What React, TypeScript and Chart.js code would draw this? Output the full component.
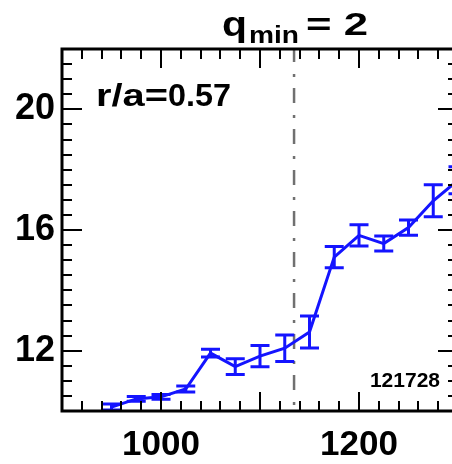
import React, { useEffect, useRef } from "react";
import { Chart, registerables } from "chart.js";

Chart.register(...registerables);

// Beam energy (keV) and measured value with its uncertainty
const energies = [950, 975, 1000, 1025, 1050, 1075, 1100, 1125, 1150, 1175, 1200, 1225, 1250, 1275, 1300];
const values = [10.13, 10.4, 10.47, 10.73, 11.92, 11.47, 11.82, 12.08, 12.62, 15.1, 15.82, 15.55, 16.08, 16.97, 17.65];
const errors = [0.1, 0.08, 0.08, 0.1, 0.13, 0.26, 0.35, 0.44, 0.53, 0.35, 0.35, 0.25, 0.25, 0.53, 0.45];

const xTickLabels = [1000, 1200];
const yTickLabels = [12, 16, 20];
const qminEnergy = 1134.4;

const X_MIN = 900;
const X_MAX = 1300;
const Y_MIN = 10;
const Y_MAX = 22;

const FONT = "'Liberation Sans', Arial, Helvetica, sans-serif";
const BLUE = "#1414ff";

function fitText(ctx: CanvasRenderingContext2D, text: string, x: number, baseline: number, font: string, width: number) {
  ctx.save();
  ctx.font = font;
  ctx.textAlign = "left";
  ctx.textBaseline = "alphabetic";
  const w = ctx.measureText(text).width;
  ctx.translate(x, baseline);
  ctx.scale(width / w, 1);
  ctx.fillStyle = "#000";
  ctx.fillText(text, 0, 0);
  ctx.restore();
}

const qminLine = {
  id: "qminLine",
  beforeDatasetsDraw(chart: any) {
    const { ctx, chartArea, scales } = chart;
    const x = scales.x.getPixelForValue(qminEnergy);
    ctx.save();
    ctx.strokeStyle = "#707070";
    ctx.lineWidth = 2.5;
    ctx.setLineDash([15, 12, 3, 11]);
    ctx.lineDashOffset = 2;
    ctx.beginPath();
    ctx.moveTo(x, chartArea.top);
    ctx.lineTo(x, chartArea.bottom);
    ctx.stroke();
    ctx.restore();
  },
};

const errorBars = {
  id: "errorBars",
  afterDatasetsDraw(chart: any) {
    const { ctx, scales } = chart;
    ctx.save();
    ctx.strokeStyle = BLUE;
    ctx.lineWidth = 3;
    const half = 9.5;
    energies.forEach((e, i) => {
      const x = scales.x.getPixelForValue(e);
      const yt = scales.y.getPixelForValue(values[i] + errors[i]);
      const yb = scales.y.getPixelForValue(values[i] - errors[i]);
      ctx.beginPath();
      ctx.moveTo(x, yt);
      ctx.lineTo(x, yb);
      ctx.moveTo(x - half, yt);
      ctx.lineTo(x + half, yt);
      ctx.moveTo(x - half, yb);
      ctx.lineTo(x + half, yb);
      ctx.stroke();
    });
    ctx.restore();
  },
};

const frame = {
  id: "frame",
  afterDraw(chart: any) {
    const { ctx, chartArea, scales } = chart;
    const { left, right, top, bottom } = chartArea;
    ctx.save();
    ctx.strokeStyle = "#000";
    ctx.lineWidth = 2;
    ctx.beginPath();
    for (let v = X_MIN; v <= X_MAX; v += 20) {
      const x = Math.round(scales.x.getPixelForValue(v));
      const len = v % 100 === 0 ? 19 : 10;
      ctx.moveTo(x, bottom);
      ctx.lineTo(x, bottom - len);
      ctx.moveTo(x, top);
      ctx.lineTo(x, top + len);
    }
    for (let v = Y_MIN; v <= Y_MAX; v += 0.5) {
      const y = Math.round(scales.y.getPixelForValue(v));
      const len = v % 4 === 0 ? 20 : 10;
      ctx.moveTo(left, y);
      ctx.lineTo(left + len, y);
      ctx.moveTo(right, y);
      ctx.lineTo(right - len, y);
    }
    ctx.stroke();
    ctx.lineWidth = 3;
    ctx.strokeRect(left, top, right - left, bottom - top);

    // title with subscript
    fitText(ctx, "q", 222, 36, `bold 35px ${FONT}`, 25);
    fitText(ctx, "min", 249, 43, `bold 23px ${FONT}`, 50);
    fitText(ctx, "= 2", 306, 35, `bold 32px ${FONT}`, 62);

    // radius annotation
    fitText(ctx, "r/a=", 96, 106, `bold 32px ${FONT}`, 72);
    fitText(ctx, "0.57", 168, 106, `bold 31px ${FONT}`, 63);

    // shot number
    ctx.font = `bold 21px ${FONT}`;
    ctx.fillStyle = "#000";
    ctx.textAlign = "right";
    ctx.textBaseline = "alphabetic";
    ctx.fillText("121728", 440, 387);
    ctx.restore();
  },
};

export default function App() {
  const canvasRef = useRef<HTMLCanvasElement | null>(null);

  useEffect(() => {
    const canvas = canvasRef.current;
    if (!canvas) return;
    const chart = new Chart(canvas, {
      type: "line",
      data: {
        datasets: [
          {
            data: energies.map((e, i) => ({ x: e, y: values[i] })),
            borderColor: BLUE,
            borderWidth: 3,
            pointRadius: 0,
            tension: 0,
            clip: false as any,
          },
        ],
      },
      options: {
        responsive: false,
        animation: false,
        devicePixelRatio: 1,
        layout: { padding: { top: 49, right: 12, bottom: 0, left: 0 } },
        plugins: { legend: { display: false }, tooltip: { enabled: false }, title: { display: false } },
        scales: {
          x: {
            type: "linear",
            min: X_MIN,
            max: X_MAX,
            border: { display: false },
            grid: { display: false, drawTicks: false },
            ticks: {
              color: "#000",
              padding: 13,
              maxRotation: 0,
              font: { family: FONT, size: 35, weight: "bold" },
              callback: (v: any) => String(v),
            },
            afterBuildTicks: (scale: any) => {
              scale.ticks = xTickLabels.map((v) => ({ value: v }));
            },
            afterFit: (scale: any) => {
              scale.height = 53;
            },
          },
          y: {
            type: "linear",
            min: Y_MIN,
            max: Y_MAX,
            border: { display: false },
            grid: { display: false, drawTicks: false },
            ticks: {
              color: "#000",
              padding: 7,
              font: { family: FONT, size: 36, weight: "bold" },
              callback: (v: any) => String(v),
            },
            afterBuildTicks: (scale: any) => {
              scale.ticks = yTickLabels.map((v) => ({ value: v }));
            },
            afterFit: (scale: any) => {
              scale.width = 62;
            },
          },
        },
      },
      plugins: [qminLine, errorBars, frame],
    });
    return () => chart.destroy();
  }, []);

  return (
    <div style={{ position: "fixed", left: 0, top: 0, width: 452, height: 464, overflow: "hidden", background: "#fff" }}>
      <canvas ref={canvasRef} width={470} height={464} style={{ display: "block", width: 470, height: 464 }} />
    </div>
  );
}
